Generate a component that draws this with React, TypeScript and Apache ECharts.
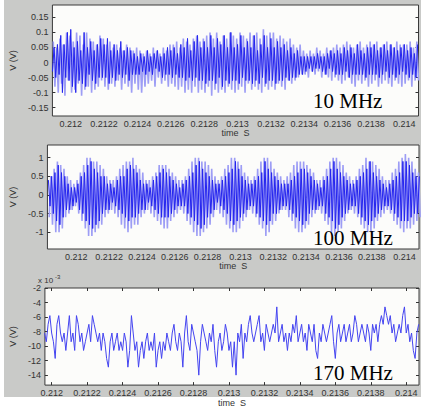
import React, { useEffect, useRef } from "react";
import * as echarts from "echarts";

// ---------- data ----------
const T_STEP = 0.00001; // sample spacing, s

// Panel 1: 10 MHz (V)
const p1Start = 0.21189;
const p1Dark = [
  -0.03, 0.05, -0.05, 0.06, -0.04, 0.09, -0.1, 0.06, -0.05, 0.1, -0.06,
  0.11, -0.08, 0.05, -0.1, 0.07, -0.06, 0.04, -0.07, 0.1, -0.08, 0.05, -0.04, 0.07, -0.06, 0.04, -0.07, 0.06, -0.05, 0.08, -0.05,
  0.06, -0.05, 0.08, -0.07, 0.04, -0.05, 0.06, -0.06, 0.04, -0.04, 0.07, -0.05, 0.04, -0.04, 0.05, -0.06, 0.04, -0.04, 0.03, -0.04,
  0.02, -0.04, 0.03, -0.03, 0.02, -0.04, 0.04, -0.03, 0.02, -0.04, 0.03, -0.02, 0.04, -0.03, 0.02, -0.05, 0.03, -0.04, 0.05, -0.04,
  0.04, -0.05, 0.05, -0.04, 0.03, -0.05, 0.06, -0.05, 0.05, -0.06, 0.08, -0.05, 0.04, -0.06, 0.07, -0.05, 0.09, -0.06, 0.05, -0.06,
  0.07, -0.07, 0.05, -0.06, 0.09, -0.06, 0.05, -0.07, 0.08, -0.05, 0.06, -0.08, 0.09, -0.06, 0.05, -0.07, 0.1, -0.06, 0.05, -0.06,
  0.06, -0.07, 0.09, -0.05, 0.05, -0.06, 0.07, -0.06, 0.05, -0.07, 0.09, -0.06, 0.04, -0.07, 0.06, -0.05, 0.09, -0.07, 0.05, -0.06,
  0.08, -0.06, 0.05, -0.07, 0.07, -0.06, 0.05, -0.06, 0.06, -0.05, 0.04, -0.06, 0.05, -0.05, 0.03, -0.05, 0.04, -0.04, 0.02, -0.04,
  0.02, -0.03, 0.02, -0.02, 0.02, -0.03, 0.02, -0.02, 0.03, -0.02, 0.02, -0.03, 0.02, -0.04, 0.03, -0.02, 0.04, -0.03, 0.03, -0.04,
  0.04, -0.04, 0.03, -0.04, 0.05, -0.03, 0.04, -0.05, 0.05, -0.04, 0.03, -0.04, 0.06, -0.04, 0.04, -0.04, 0.03, -0.05, 0.05, -0.04,
  0.05, -0.04, 0.06, -0.04, 0.04, -0.05, 0.05, -0.04, 0.06, -0.03, 0.04, -0.05, 0.06, -0.04, 0.05, -0.05, 0.04, -0.04, 0.05, -0.03,
  0.06, -0.04, 0.04, -0.05, 0.05, -0.04, 0.03, -0.05, 0.06,
];
const p1Light = [
  0.07, -0.08, 0.05, -0.1, 0.08, -0.07, 0.06, -0.11, 0.1, -0.06, 0.09,
  -0.1, 0.07, -0.09, 0.1, -0.07, 0.09, -0.11, 0.06, -0.09, 0.1, -0.08, 0.08, -0.1, 0.07, -0.09, 0.06, -0.08, 0.09, -0.06, 0.08,
  -0.08, 0.06, -0.09, 0.07, -0.07, 0.05, -0.08, 0.06, -0.06, 0.05, -0.09, 0.04, -0.07, 0.06, -0.08, 0.05, -0.1, 0.04, -0.07, 0.05,
  -0.09, 0.04, -0.1, 0.03, -0.08, 0.04, -0.07, 0.03, -0.06, 0.05, -0.08, 0.04, -0.05, 0.03, -0.07, 0.05, -0.06, 0.04, -0.08, 0.06,
  -0.07, 0.06, -0.08, 0.07, -0.09, 0.05, -0.08, 0.08, -0.1, 0.07, -0.09, 0.06, -0.1, 0.08, -0.08, 0.09, -0.1, 0.07, -0.09, 0.08,
  -0.1, 0.09, -0.08, 0.1, -0.11, 0.08, -0.09, 0.1, -0.1, 0.07, -0.09, 0.09, -0.1, 0.08, -0.08, 0.1, -0.09, 0.09, -0.1, 0.08,
  -0.09, 0.1, -0.08, 0.09, -0.1, 0.08, -0.07, 0.1, -0.09, 0.09, -0.08, 0.1, -0.09, 0.08, -0.1, 0.11, -0.08, 0.09, -0.09, 0.1,
  -0.08, 0.1, -0.09, 0.08, -0.07, 0.09, -0.08, 0.08, -0.09, 0.07, -0.06, 0.08, -0.07, 0.06, -0.06, 0.05, -0.05, 0.06, -0.04, 0.04,
  -0.04, 0.03, -0.05, 0.04, -0.03, 0.03, -0.04, 0.05, -0.03, 0.04, -0.05, 0.03, -0.04, 0.05, -0.05, 0.04, -0.06, 0.05, -0.05, 0.06,
  -0.06, 0.05, -0.07, 0.06, -0.06, 0.07, -0.05, 0.06, -0.07, 0.05, -0.08, 0.06, -0.06, 0.07, -0.07, 0.05, -0.06, 0.06, -0.08, 0.07,
  -0.07, 0.06, -0.06, 0.07, -0.08, 0.05, -0.07, 0.06, -0.06, 0.07, -0.07, 0.06, -0.08, 0.05, -0.06, 0.07, -0.07, 0.06, -0.08, 0.06,
  -0.07, 0.06, -0.06, 0.07, -0.08, 0.05, -0.06, 0.07, -0.06,
];

// Panel 2: 100 MHz (V)
const p2Start = 0.21183;
const p2Dark = [
  0.4, -0.3, 0.5, -0.5, 0.6, -0.7,
  0.8, -0.8, 0.6, -0.6, 0.5, -0.4,
  0.3, -0.4, 0.2, -0.3, 0.2, -0.2,
  0.3, -0.4, 0.5, -0.5, 0.6, -0.7,
  0.8, -0.8, 0.9, -0.9, 0.7, -0.8,
  0.6, -0.7, 0.5, -0.5, 0.5, -0.4,
  0.3, -0.4, 0.3, -0.2, 0.2, -0.3,
  0.4, -0.4, 0.5, -0.5, 0.5, -0.6,
  0.7, -0.7, 0.8, -0.6, 0.7, -0.6,
  0.6, -0.5, 0.4, -0.4, 0.3, -0.4,
  0.3, -0.2, 0.2, -0.3, 0.4, -0.4,
  0.5, -0.5, 0.6, -0.6, 0.7, -0.6,
  0.6, -0.6, 0.5, -0.5, 0.4, -0.4,
  0.3, -0.3, 0.2, -0.3, 0.3, -0.3,
  0.4, -0.5, 0.5, -0.6, 0.6, -0.7,
  0.8, -0.8, 0.9, -0.9, 0.7, -0.8,
  0.6, -0.6, 0.5, -0.5, 0.4, -0.4,
  0.3, -0.2, 0.3, -0.3, 0.4, -0.4,
  0.5, -0.5, 0.6, -0.7, 0.7, -0.8,
  0.9, -0.7, 0.7, -0.6, 0.5, -0.5,
  0.4, -0.4, 0.3, -0.3, 0.3, -0.3,
  0.4, -0.5, 0.5, -0.6, 0.6, -0.7,
  0.9, -0.8, 0.7, -0.7, 0.6, -0.5,
  0.5, -0.5, 0.4, -0.4, 0.3, -0.3,
  0.3, -0.3, 0.3, -0.4, 0.4, -0.5,
  0.5, -0.6, 0.6, -0.7, 0.7, -0.8,
  0.7, -0.7, 0.6, -0.5, 0.5, -0.4,
  0.4, -0.4, 0.3, -0.3, 0.2, -0.3,
  0.4, -0.5, 0.5, -0.6, 0.7, -0.7,
  0.9, -0.9, 0.7, -0.8, 0.6, -0.6,
  0.5, -0.5, 0.4, -0.4, 0.3, -0.3,
  0.3, -0.3, 0.4, -0.5, 0.5, -0.6,
  0.6, -0.7, 0.7, -0.8, 0.9, -0.7,
  0.6, -0.6, 0.5, -0.5, 0.4, -0.4,
  0.3, -0.3, 0.2, -0.3, 0.3, -0.4,
  0.4, -0.5, 0.5, -0.6, 0.6, -0.7,
  0.9, -0.7, 0.9, -0.7, 0.8, -0.6,
  0.6, -0.5, 0.5, -0.5, 0.5,
];
const p2Light = [
  -0.6, 0.5, -0.8, 0.7, -1.0, 0.9,
  -1.0, 0.8, -0.9, 0.7, -0.6, 0.5,
  -0.5, 0.4, -0.4, 0.3, -0.3, 0.4,
  -0.5, 0.6, -0.7, 0.8, -0.9, 1.0,
  -1.1, 1.0, -1.1, 0.9, -1.0, 0.9,
  -0.9, 0.8, -0.8, 0.7, -0.6, 0.5,
  -0.5, 0.4, -0.4, 0.4, -0.5, 0.5,
  -0.6, 0.7, -0.8, 0.8, -0.9, 0.9,
  -1.0, 0.9, -0.9, 1.0, -0.8, 0.8,
  -0.8, 0.7, -0.6, 0.6, -0.5, 0.4,
  -0.4, 0.4, -0.5, 0.5, -0.6, 0.6,
  -0.7, 0.8, -0.8, 0.8, -0.9, 0.8,
  -0.9, 0.7, -0.7, 0.6, -0.6, 0.5,
  -0.5, 0.4, -0.4, 0.4, -0.5, 0.5,
  -0.7, 0.7, -0.8, 0.9, -1.0, 1.0,
  -1.1, 1.0, -1.1, 0.9, -1.0, 0.9,
  -0.9, 0.8, -0.8, 0.7, -0.6, 0.5,
  -0.4, 0.4, -0.5, 0.5, -0.6, 0.7,
  -0.8, 0.8, -0.9, 1.0, -1.0, 1.0,
  -1.0, 0.9, -0.9, 0.8, -0.7, 0.6,
  -0.6, 0.5, -0.4, 0.4, -0.5, 0.5,
  -0.6, 0.7, -0.8, 0.9, -0.9, 1.0,
  -1.1, 1.0, -1.0, 0.9, -0.8, 0.7,
  -0.7, 0.6, -0.5, 0.5, -0.4, 0.4,
  -0.4, 0.5, -0.6, 0.6, -0.7, 0.8,
  -0.9, 0.9, -1.0, 0.9, -1.0, 0.9,
  -0.9, 0.8, -0.8, 0.7, -0.6, 0.6,
  -0.5, 0.4, -0.4, 0.4, -0.5, 0.5,
  -0.7, 0.7, -0.8, 0.9, -1.0, 1.0,
  -1.1, 1.0, -1.0, 0.9, -0.9, 0.8,
  -0.7, 0.6, -0.5, 0.5, -0.4, 0.4,
  -0.5, 0.5, -0.6, 0.7, -0.8, 0.8,
  -0.9, 1.0, -1.0, 0.9, -1.0, 0.9,
  -0.9, 0.8, -0.7, 0.7, -0.6, 0.5,
  -0.5, 0.4, -0.4, 0.4, -0.5, 0.6,
  -0.7, 0.7, -0.8, 0.9, -0.9, 1.0,
  -1.0, 1.1, -0.9, 1.0, -0.9, 0.9,
  -0.8, 0.7, -0.7, 0.6, -0.6,
];

// Panel 3: 170 MHz (V x 10^-3)
const p3Start = 0.21196;
const p3Values = [
  -8.2, -9.4, -7.0, -5.8, -8.2, -9.4, -11.7, -7.0, -5.8, -8.2,
  -9.4, -8.2, -10.6, -8.2, -5.8, -9.4, -8.2, -10.6, -5.8, -7.0,
  -9.4, -8.2, -10.6, -9.4, -8.2, -7.0, -9.4, -5.8, -7.0, -8.2,
  -9.4, -8.2, -10.6, -8.2, -9.4, -11.7, -12.9, -9.4, -8.2, -10.6,
  -9.4, -8.2, -10.6, -9.4, -10.6, -8.2, -9.4, -12.9, -10.6, -5.8,
  -8.2, -10.6, -9.4, -12.9, -10.6, -9.4, -11.7, -9.4, -8.2, -10.6,
  -9.4, -10.6, -8.2, -12.9, -10.6, -9.4, -11.7, -9.4, -10.6, -8.2,
  -9.4, -10.6, -8.2, -7.0, -9.4, -10.6, -8.2, -9.4, -12.9, -8.2,
  -5.8, -9.4, -10.6, -7.0, -8.2, -9.4, -10.6, -14.0, -9.4, -7.0,
  -8.2, -9.4, -10.6, -8.2, -9.4, -7.0, -10.6, -12.9, -9.4, -8.2,
  -10.6, -9.4, -7.0, -8.2, -10.6, -9.4, -12.9, -9.4, -14.0, -8.2,
  -9.4, -7.0, -11.7, -8.2, -9.4, -7.0, -5.8, -8.2, -9.4, -8.2,
  -7.0, -5.8, -9.4, -8.2, -10.6, -7.0, -8.2, -9.4, -8.2, -7.0,
  -8.2, -4.6, -9.4, -8.2, -7.0, -9.4, -8.2, -10.6, -8.2, -9.4,
  -7.0, -8.2, -5.8, -9.4, -8.2, -7.0, -9.4, -8.2, -10.6, -7.0,
  -8.2, -9.4, -7.0, -10.6, -11.7, -8.2, -9.4, -7.0, -8.2, -9.4,
  -8.2, -7.0, -5.8, -9.4, -11.7, -8.2, -7.0, -9.4, -8.2, -7.0,
  -9.4, -8.2, -7.0, -9.4, -8.2, -5.8, -7.0, -9.4, -8.2, -7.0,
  -8.2, -9.4, -7.0, -8.2, -10.6, -7.0, -8.2, -7.0, -9.4, -7.0,
  -5.8, -7.0, -4.6, -5.8, -7.0, -5.8, -8.2, -7.0, -9.4, -8.2,
  -7.0, -8.2, -5.8, -4.6, -8.2, -7.0, -9.4, -8.2, -10.6, -11.7,
  -8.2, -7.0,
];

// Tick values / labels
const xTickValues = [0.212, 0.2122, 0.2124, 0.2126, 0.2128, 0.213, 0.2132, 0.2134, 0.2136, 0.2138, 0.214];
const xTickLabels = ["0.212", "0.2122", "0.2124", "0.2126", "0.2128", "0.213", "0.2132", "0.2134", "0.2136", "0.2138", "0.214"];
const y1Ticks = [-0.15, -0.1, -0.05, 0, 0.05, 0.1, 0.15];
const y2Ticks = [-1, -0.5, 0, 0.5, 1];
const y3Ticks = [-14, -12, -10, -8, -6, -4, -2];
const panelLabels = ["10 MHz", "100 MHz", "170 MHz"];
const xAxisTitle = "time  S";
const yAxisTitle = "V (V)";

// ---------- layout / style ----------
const FONT = "'Liberation Sans', Arial, sans-serif";
const DARK = "#2424ee";
const LIGHT = "#9d9df5";
const TEXT = "#333333";

const grids = [
  { left: 46, top: 5, width: 372.5, height: 111 },
  { left: 39.5, top: 145, width: 379.5, height: 104 },
  { left: 38.5, top: 288, width: 380.5, height: 98 },
];
const xRanges = [
  [0.21189, 0.214085],
  [0.211824, 0.214088],
  [0.211962, 0.214072],
];
const yRanges = [
  [-0.1776, 0.191],
  [-1.45, 1.34],
  [-15.37, -2],
];
const yTickSets = [y1Ticks, y2Ticks, y3Ticks];
const yNameGaps = [28, 23, 22];

function toPairs(values: number[], start: number, offset: number) {
  return values.map((v, i) => [start + (i + offset) * T_STEP, v]);
}

export default function App() {
  const ref = useRef<HTMLDivElement>(null);
  useEffect(() => {
    if (!ref.current) return;
    const chart = echarts.init(ref.current, undefined, { renderer: "svg" });

    const xAxes: any[] = [];
    const yAxes: any[] = [];
    for (let k = 0; k < 3; k++) {
      xAxes.push({
        type: "value",
        gridIndex: k,
        position: "bottom",
        min: xRanges[k][0],
        max: xRanges[k][1],
        axisLine: { show: false },
        splitLine: { show: false },
        axisTick: {
          show: true,
          inside: true,
          length: 3,
          customValues: xTickValues,
          lineStyle: { color: "#333", width: 1 },
        },
        axisLabel: {
          customValues: xTickValues,
          formatter: (v: number) => {
            const idx = xTickValues.findIndex((t) => Math.abs(t - v) < 1e-9);
            return idx >= 0 ? xTickLabels[idx] : "";
          },
          fontSize: 9,
          color: TEXT,
          fontFamily: FONT,
          margin: 3,
        },
        name: xAxisTitle,
        nameLocation: "middle",
        nameGap: 12,
        nameTextStyle: { fontSize: 9, color: TEXT, fontFamily: FONT },
      });
      yAxes.push({
        type: "value",
        gridIndex: k,
        position: "left",
        min: yRanges[k][0],
        max: yRanges[k][1],
        axisLine: { show: false },
        splitLine: { show: false },
        axisTick: {
          show: true,
          inside: true,
          length: 3,
          customValues: yTickSets[k],
          lineStyle: { color: "#333", width: 1 },
        },
        axisLabel: {
          customValues: yTickSets[k],
          formatter: (v: number) => String(v),
          fontSize: 9,
          color: TEXT,
          fontFamily: FONT,
          margin: 4,
        },
        name: yAxisTitle,
        nameLocation: "middle",
        nameGap: yNameGaps[k],
        nameRotate: 90,
        nameTextStyle: { fontSize: 9, color: TEXT, fontFamily: FONT },
      });
    }
    // mirrored tick axes (top / right)
    for (let k = 0; k < 3; k++) {
      xAxes.push({
        type: "value",
        gridIndex: k,
        position: "top",
        min: xRanges[k][0],
        max: xRanges[k][1],
        axisLine: { show: false },
        splitLine: { show: false },
        axisLabel: { show: false },
        axisTick: {
          show: true,
          inside: true,
          length: 3,
          customValues: xTickValues,
          lineStyle: { color: "#333", width: 1 },
        },
      });
      yAxes.push({
        type: "value",
        gridIndex: k,
        position: "right",
        min: yRanges[k][0],
        max: yRanges[k][1],
        axisLine: { show: false },
        splitLine: { show: false },
        axisLabel: { show: false },
        axisTick: {
          show: true,
          inside: true,
          length: 3,
          customValues: yTickSets[k],
          lineStyle: { color: "#333", width: 1 },
        },
      });
    }

    const lineSeries = (data: number[][], k: number, color: string, width: number, z: number) => ({
      type: "line",
      xAxisIndex: k,
      yAxisIndex: k,
      data,
      showSymbol: false,
      symbol: "none",
      lineStyle: { color, width },
      z,
      silent: true,
    });

    const series = [
      lineSeries(toPairs(p1Light, p1Start, 0.5), 0, LIGHT, 1.6, 2),
      lineSeries(toPairs(p1Dark, p1Start, 0), 0, DARK, 1, 3),
      lineSeries(toPairs(p2Light, p2Start, 0.5), 1, LIGHT, 1.6, 2),
      lineSeries(toPairs(p2Dark, p2Start, 0), 1, DARK, 1, 3),
      lineSeries(toPairs(p3Values, p3Start, 0), 2, "#4444f0", 1, 3),
    ];

    const labelY = [101, 238, 372.5];

    chart.setOption({
      animation: false,
      backgroundColor: "#ffffff",
      grid: grids.map((g) => ({
        ...g,
        show: true,
        backgroundColor: "#fcfcfa",
        borderColor: "#3a3a3a",
        borderWidth: 1,
        containLabel: false,
      })),
      xAxis: xAxes,
      yAxis: yAxes,
      series,
      graphic: [
        {
          type: "rect",
          z: -10,
          silent: true,
          shape: { x: 4, y: 0, width: 417, height: 397 },
          style: { fill: "#c9cac8" },
        },
        ...panelLabels.map((t, k) => ({
          type: "text",
          z: 100,
          x: 313,
          y: labelY[k],
          style: {
            text: t,
            fontFamily: "'Liberation Serif', 'Times New Roman', serif",
            fontSize: 21,
            fill: "#000",
            verticalAlign: "middle",
            align: "left",
          },
        })),
        {
          type: "text",
          z: 100,
          x: 38,
          y: 280,
          style: { text: "x 10", fontSize: 8, fill: TEXT, fontFamily: FONT, verticalAlign: "middle" },
        },
        {
          type: "text",
          z: 100,
          x: 55,
          y: 277,
          style: { text: "-3", fontSize: 6, fill: TEXT, fontFamily: FONT, verticalAlign: "middle" },
        },
      ],
    });
    return () => chart.dispose();
  }, []);
  return (
    <div
      ref={ref}
      style={{ position: "fixed", left: 0, top: 0, width: 422, height: 408 }}
    />
  );
}
